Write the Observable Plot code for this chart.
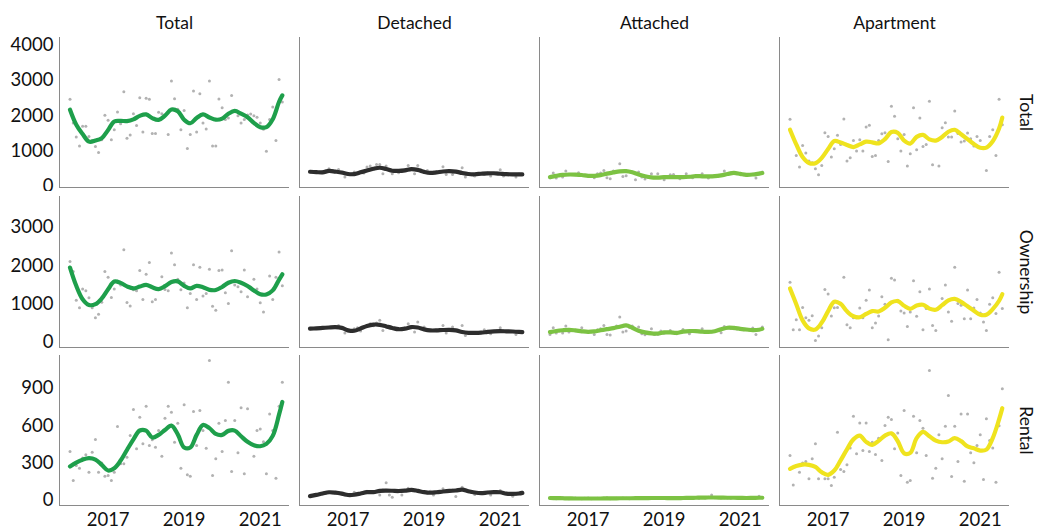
<!DOCTYPE html>
<html><head><meta charset="utf-8">
<script src="https://cdn.jsdelivr.net/npm/d3@7"></script>
<script src="https://cdn.jsdelivr.net/npm/@observablehq/plot@0.6"></script>
<style>
body{margin:0;background:#fff;}
#chart{position:relative;width:1037px;height:529px;background:#fff;}
#chart svg{position:absolute;left:0;display:block;overflow:visible;}
</style></head><body><div id="chart"></div>
<script>
// ---- categories ----
const columns = ["Total", "Detached", "Attached", "Apartment"];
const rowNames = ["Total", "Ownership", "Rental"];
const columnColors = ["#1e9f4b", "#2d2d2d", "#7cc243", "#efe31e"];
// monthly observations Jan 2016 .. Aug 2021 (68 months)
const months = d3.utcMonth.range(new Date(Date.UTC(2016, 0, 1)), new Date(Date.UTC(2021, 8, 1)));
// month indices at which the smoothed trend is sampled
const fitMonthIndex = [0,2,4,6,8,10,12,14,16,18,20,22,24,26,28,30,32,34,36,38,40,42,44,46,48,50,52,54,56,58,60,62,64,66,67];
const yearTicks = [2017, 2019, 2021];
const totalTicks = [0, 1000, 2000, 3000, 4000];
const ownershipTicks = [0, 1000, 2000, 3000];
const rentalTicks = [0, 300, 600, 900];

// ---- row: Total ----
const totalTotal = [2468,1800,1399,1143,1702,1702,1418,1300,1135,965,1324,2014,1872,1324,1607,2108,1778,2686,1362,1456,2057,1730,2516,1541,2500,2468,1503,1503,2100,2057,2014,1475,2988,2485,2184,1607,2155,1078,1475,2704,1541,2628,1797,1626,2988,1143,1143,2477,2231,1900,1938,2580,2150,2000,1797,1900,2024,2050,2000,1960,1800,1617,1000,1900,2250,1300,3030,2396];
const totalDetached = [416,420,410,400,420,440,501,450,420,482,380,265,350,360,406,390,420,378,549,577,500,624,624,359,577,480,359,440,387,460,470,596,480,359,596,470,420,454,378,400,410,430,558,340,454,340,420,400,530,265,360,330,293,350,370,340,380,293,370,380,473,293,360,350,340,265,350,340];
const totalAttached = [246,378,236,320,265,435,330,340,330,387,320,310,300,290,246,359,378,454,246,217,435,420,643,284,303,420,406,189,406,265,208,260,359,250,359,246,189,260,331,340,270,217,260,359,270,246,290,300,359,280,236,290,300,290,320,435,340,387,370,360,350,330,320,330,345,236,360,406];
const totalApartment = [1901,1400,879,548,1163,946,719,671,501,331,596,1522,1418,832,1068,1447,1191,1910,719,813,1305,1002,1324,1002,1683,1731,851,879,1300,1494,1522,709,2270,1986,1350,1002,1475,577,927,2232,1040,1939,1135,1191,2411,615,1300,577,1664,1806,1400,1400,2137,1500,1258,1286,1513,1350,1144,1418,1300,1100,454,1418,1607,879,2468,1749];
const totalTotalFit = [2175,1750,1485,1270,1300,1370,1600,1840,1857,1853,1900,2000,2040,1935,1885,2005,2180,2130,1890,1790,1940,2040,1955,1891,1920,2060,2140,2060,1960,1800,1680,1680,1905,2400,2580];
const totalDetachedFit = [416,406,400,440,420,395,352,350,400,452,502,530,494,445,440,456,492,468,413,382,399,424,432,420,380,352,345,360,372,373,360,348,340,340,340];
const totalAttachedFit = [265,300,328,338,335,325,300,300,320,362,398,428,434,400,340,290,255,250,262,265,265,265,275,292,288,286,292,315,352,382,355,330,338,365,380];
const totalApartmentFit = [1607,1190,832,665,660,810,1060,1285,1245,1175,1115,1190,1270,1250,1220,1340,1540,1520,1300,1215,1405,1460,1335,1300,1400,1550,1605,1480,1340,1200,1095,1100,1280,1640,1950];

// ---- row: Ownership ----
const ownershipTotal = [2114,1851,1105,904,1395,1351,1167,904,649,737,1050,1851,1702,1176,1395,1600,1500,2421,1044,956,1377,1351,1877,1123,1781,2088,1061,1123,1400,1719,1386,1350,2333,2026,1649,1377,1550,904,1281,2026,1123,1965,1211,1281,1912,947,842,1877,1895,1298,1018,2395,1500,1456,1325,1895,1193,1450,1649,1395,1035,798,1263,1737,1123,1700,2360,1482];
const ownershipDetached = [360,365,370,375,380,390,395,400,400,447,380,246,300,310,360,386,298,400,447,491,440,509,579,316,447,400,370,350,340,360,380,491,410,272,535,370,404,330,316,320,310,330,447,246,330,404,320,300,447,184,260,246,250,260,270,333,280,228,290,300,386,300,290,285,290,211,280,272];
const ownershipAttached = [211,386,246,300,246,430,272,320,310,300,386,290,275,280,211,333,360,447,211,193,380,430,667,272,298,400,430,340,404,228,202,250,360,211,211,298,240,270,316,260,228,270,342,290,228,300,290,280,360,275,272,280,290,320,255,421,380,370,360,350,340,335,330,320,377,211,340,404];
const ownershipApartment = [1570,333,596,333,912,649,579,700,53,167,386,1386,1263,693,904,912,1000,1702,465,386,649,649,900,649,1105,1368,386,509,693,1193,1000,70,1675,1632,1100,825,772,421,798,1614,684,1325,333,886,1395,447,316,900,1149,1500,798,553,1965,1018,974,623,1368,623,900,1123,772,535,316,1000,1167,754,1833,886];
const ownershipTotalFit = [1956,1480,1130,980,1000,1150,1390,1590,1556,1465,1412,1460,1505,1440,1395,1470,1580,1595,1480,1412,1480,1442,1375,1370,1450,1560,1605,1560,1475,1360,1260,1255,1360,1640,1780];
const ownershipDetachedFit = [360,369,380,392,400,382,318,306,368,432,468,462,420,380,347,362,404,392,343,316,316,326,330,317,276,254,250,256,277,292,297,292,287,278,272];
const ownershipAttachedFit = [272,300,320,331,315,293,278,290,320,348,376,412,445,384,309,264,238,235,263,263,250,283,298,298,282,278,295,343,386,381,357,340,323,334,356];
const ownershipApartmentFit = [1412,1000,579,370,340,520,820,1065,1010,815,685,660,745,820,810,905,1045,1080,960,880,965,985,885,855,974,1100,1140,1060,945,830,725,725,870,1090,1260];

// ---- row: Rental ----
const rentalTotal = [393,160,280,259,340,366,227,387,489,227,300,195,200,160,227,593,294,294,347,520,729,414,668,454,756,441,486,427,561,355,660,756,708,467,620,259,767,206,195,713,441,721,560,419,1122,200,334,620,393,641,948,232,641,382,743,214,735,454,355,561,574,470,214,694,561,179,756,948];
const rentalDetached = [35,42,48,50,55,60,66,62,60,67,52,45,42,46,67,50,55,67,75,65,70,72,45,85,142,45,27,80,72,45,82,99,85,78,74,70,65,60,75,45,68,70,94,72,78,85,32,82,107,80,70,65,48,58,60,62,66,45,68,70,80,60,55,52,35,50,58,67];
const rentalAttached = [18,22,15,20,24,17,14,19,21,16,15,18,20,14,17,19,16,18,22,15,17,19,16,20,18,15,21,17,19,22,18,20,23,17,19,21,16,22,18,20,19,21,17,23,20,22,25,18,24,21,26,45,22,25,20,23,21,19,24,20,22,18,21,19,23,20,35,22];
const rentalApartment = [361,125,280,227,300,312,174,334,454,174,230,174,174,120,187,547,248,232,286,420,675,374,622,401,622,393,467,369,499,321,601,668,649,414,540,200,721,147,160,675,382,641,580,361,1042,179,259,526,334,596,841,192,596,312,694,155,694,382,302,440,526,168,655,480,420,147,600,895];
const rentalTotalFit = [273,304,327,339,328,285,240,258,320,405,490,561,560,505,526,565,600,530,425,425,526,605,580,534,526,558,560,515,470,443,435,454,518,690,790];
const rentalDetachedFit = [35,45,56,66,63,55,44,46,56,67,67,77,79,78,76,79,85,77,67,62,66,72,77,80,87,74,64,59,64,67,66,55,53,56,61];
const rentalAttachedFit = [20,19,18,17,16,16,16,16,16,17,17,18,18,18,19,19,20,20,20,19,19,20,21,22,23,24,24,23,22,22,21,20,21,22,22];
const rentalApartmentFit = [254,276,288,286,269,226,206,240,321,410,490,520,470,446,478,520,538,475,378,382,500,550,515,480,467,473,500,476,433,418,400,408,500,650,740];

// ---- layout ----
const xDomain = [new Date(Date.UTC(2015, 8, 22)), new Date(Date.UTC(2021, 9, 9))];
const FONT = "Lato, 'Open Sans', sans-serif";
const TEXT = "#111111";
const rows = [
  {name: rowNames[0], points: [totalTotal, totalDetached, totalAttached, totalApartment],
   fits: [totalTotalFit, totalDetachedFit, totalAttachedFit, totalApartmentFit],
   yDomain: [-30, 4220], yTicks: totalTicks, top: 0, height: 191, marginTop: 37, marginBottom: 4},
  {name: rowNames[1], points: [ownershipTotal, ownershipDetached, ownershipAttached, ownershipApartment],
   fits: [ownershipTotalFit, ownershipDetachedFit, ownershipAttachedFit, ownershipApartmentFit],
   yDomain: [-130, 3810], yTicks: ownershipTicks, top: 191, height: 160, marginTop: 5, marginBottom: 4},
  {name: rowNames[2], points: [rentalTotal, rentalDetached, rentalAttached, rentalApartment],
   fits: [rentalTotalFit, rentalDetachedFit, rentalAttachedFit, rentalApartmentFit],
   yDomain: [-40, 1162], yTicks: rentalTicks, top: 351, height: 178, marginTop: 4, marginBottom: 24}
];

const chart = document.getElementById("chart");
rows.forEach((row, r) => {
  const pts = [], fit = [];
  columns.forEach((c, j) => {
    row.points[j].forEach((v, i) => pts.push({col: c, date: months[i], value: v}));
    row.fits[j].forEach((v, k) => fit.push({col: c, date: months[fitMonthIndex[k]], value: v}));
  });
  const isFirst = r === 0, isLast = r === rows.length - 1;
  const marks = [
    Plot.ruleX([xDomain[0]], {stroke: "#8a8a8a", strokeWidth: 1}),
    Plot.ruleY([row.yDomain[0]], {stroke: "#8a8a8a", strokeWidth: 1}),
    Plot.dot(pts, {fx: "col", x: "date", y: "value", r: 1.5, fill: "#b2b2b2"}),
    Plot.line(fit, {fx: "col", x: "date", y: "value", z: "col", stroke: "col", strokeWidth: 4.2, curve: "catmull-rom"}),
    Plot.axisY(row.yTicks, {tickSize: 0, tickPadding: 6, fontSize: 18.5, label: null, fill: TEXT, tickFormat: d3.format("d")}),
    Plot.text([{col: "Apartment", label: row.name}], {fx: "col", text: "label", frameAnchor: "right", dx: 16, rotate: 90, fontSize: 17.5, fill: TEXT, textAnchor: "middle", lineAnchor: "middle"})
  ];
  if (isFirst) marks.push(Plot.axisFx({anchor: "top", tickSize: 0, tickPadding: 9, fontSize: 17.5, label: null, fill: TEXT}));
  if (isLast) marks.push(Plot.axisX(yearTicks.map(y => new Date(Date.UTC(y, 0, 1))), {tickSize: 0, tickPadding: 7, fontSize: 18.5, label: null, tickFormat: d3.utcFormat("%Y"), fill: TEXT}));
  const svg = Plot.plot({
    width: 1037, height: row.height,
    marginLeft: 58, marginRight: 27, marginTop: row.marginTop, marginBottom: row.marginBottom,
    style: {fontFamily: FONT, fontSize: "17.5px", color: TEXT, background: "white", overflow: "visible"},
    fx: {domain: columns, paddingInner: 0.04, paddingOuter: 0, label: null, ...(isFirst ? {} : {axis: null})},
    x: {type: "utc", domain: xDomain, ...(isLast ? {} : {axis: null})},
    y: {domain: row.yDomain},
    color: {domain: columns, range: columnColors},
    marks
  });
  svg.style.top = row.top + "px";
  chart.appendChild(svg);
});
</script></body></html>
